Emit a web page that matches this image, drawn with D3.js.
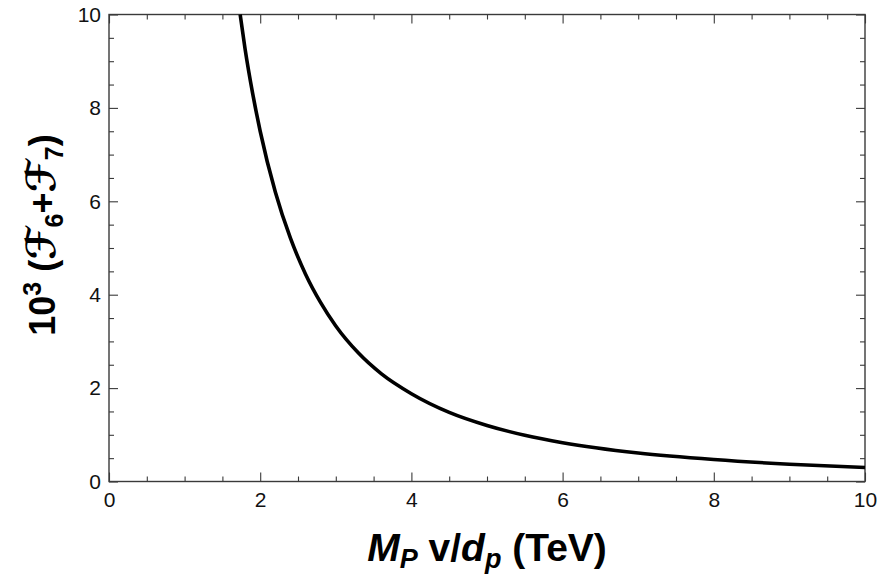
<!DOCTYPE html>
<html>
<head>
<meta charset="utf-8">
<script src="https://cdn.jsdelivr.net/npm/d3@7"></script>
<style>
  html, body { margin: 0; padding: 0; background: #fff; }
  svg { display: block; }
  text { font-family: "Liberation Sans", Arial, sans-serif; }
</style>
</head>
<body>
<svg id="chart" width="891" height="575"></svg>
<script>
// Curve samples: M_P v/d_p (TeV) vs 10^3 (F6+F7)
const massTeV = [1.735, 1.8, 1.9, 2.0, 2.2, 2.4, 2.6, 2.8, 3.0, 3.3, 3.6, 4.0, 4.5, 5.0, 5.5, 6.0, 7.0, 8.0, 9.0, 10.0];
const formFactor = [10.0, 9.26, 8.31, 7.5, 6.2, 5.21, 4.44, 3.83, 3.33, 2.75, 2.31, 1.88, 1.48, 1.2, 0.99, 0.83, 0.61, 0.47, 0.37, 0.30];

const xMajorTicks = [0, 2, 4, 6, 8, 10];
const yMajorTicks = [0, 2, 4, 6, 8, 10];
const xMinorTicks = [0.5, 1, 1.5, 2.5, 3, 3.5, 4.5, 5, 5.5, 6.5, 7, 7.5, 8.5, 9, 9.5];
const yMinorTicks = [0.5, 1, 1.5, 2.5, 3, 3.5, 4.5, 5, 5.5, 6.5, 7, 7.5, 8.5, 9, 9.5];

const svg = d3.select("#chart");
const plotL = 109, plotR = 865, plotT = 14.5, plotB = 481.5;

const x = d3.scaleLinear().domain([0, 10]).range([plotL, plotR]);
const y = d3.scaleLinear().domain([0, 10]).range([plotB, plotT]);

const tickColor = "#3a3a3a";
const major = 9, minor = 5;

function styleAxis(g) {
  g.select(".domain").remove();
  g.selectAll(".tick line").attr("stroke", tickColor).attr("stroke-width", 1.1);
  g.selectAll(".tick text").attr("fill", "#111").attr("font-size", 21)
    .attr("font-family", "Liberation Sans, Arial, sans-serif");
}

// bottom axis with labels
svg.append("g").attr("transform", `translate(0,${plotB})`)
  .call(d3.axisBottom(x).tickValues(xMajorTicks).tickSize(-major).tickPadding(11).tickFormat(d3.format("d")))
  .call(styleAxis);
svg.append("g").attr("transform", `translate(0,${plotB})`)
  .call(d3.axisBottom(x).tickValues(xMinorTicks).tickSize(-minor).tickFormat(""))
  .call(styleAxis);
// top axis
svg.append("g").attr("transform", `translate(0,${plotT})`)
  .call(d3.axisTop(x).tickValues(xMajorTicks).tickSize(-major).tickFormat(""))
  .call(styleAxis);
svg.append("g").attr("transform", `translate(0,${plotT})`)
  .call(d3.axisTop(x).tickValues(xMinorTicks).tickSize(-minor).tickFormat(""))
  .call(styleAxis);
// left axis with labels
svg.append("g").attr("transform", `translate(${plotL},0)`)
  .call(d3.axisLeft(y).tickValues(yMajorTicks).tickSize(-major).tickPadding(8).tickFormat(d3.format("d")))
  .call(styleAxis);
svg.append("g").attr("transform", `translate(${plotL},0)`)
  .call(d3.axisLeft(y).tickValues(yMinorTicks).tickSize(-minor).tickFormat(""))
  .call(styleAxis);
// right axis
svg.append("g").attr("transform", `translate(${plotR},0)`)
  .call(d3.axisRight(y).tickValues(yMajorTicks).tickSize(-major).tickFormat(""))
  .call(styleAxis);
svg.append("g").attr("transform", `translate(${plotR},0)`)
  .call(d3.axisRight(y).tickValues(yMinorTicks).tickSize(-minor).tickFormat(""))
  .call(styleAxis);

// frame
svg.append("rect")
  .attr("x", plotL).attr("y", plotT)
  .attr("width", plotR - plotL).attr("height", plotB - plotT)
  .attr("fill", "none").attr("stroke", tickColor).attr("stroke-width", 1.4);

// curve
const pts = massTeV.map((m, i) => [m, formFactor[i]]);
const line = d3.line().x(d => x(d[0])).y(d => y(d[1])).curve(d3.curveMonotoneX);
svg.append("path")
  .datum(pts)
  .attr("d", line)
  .attr("fill", "none")
  .attr("stroke", "#000")
  .attr("stroke-width", 3.6)
  .attr("stroke-linejoin", "round");

// x-axis title
const xt = svg.append("text")
  .attr("x", (plotL + plotR) / 2).attr("y", 561)
  .attr("text-anchor", "middle")
  .attr("font-size", 39).attr("font-weight", "bold").attr("fill", "#000");
xt.append("tspan").attr("font-style", "italic").text("M");
xt.append("tspan").attr("font-style", "italic").attr("font-size", 27).attr("dy", 7).text("P");
xt.append("tspan").attr("dy", -7).text(" v/");
xt.append("tspan").attr("font-style", "italic").text("d");
xt.append("tspan").attr("font-style", "italic").attr("font-size", 27).attr("dy", 7).text("p");
xt.append("tspan").attr("dy", -7).text(" (TeV)");

// y-axis title
const yt = svg.append("text")
  .attr("transform", "translate(55,235) rotate(-90)")
  .attr("text-anchor", "middle")
  .attr("font-size", 36).attr("font-weight", "bold").attr("fill", "#000");
yt.append("tspan").text("10");
yt.append("tspan").attr("font-size", 25).attr("dy", -14).text("3");
yt.append("tspan").attr("dy", 14).text(" (");
yt.append("tspan").attr("font-family", "DejaVu Sans, serif").attr("font-size", 40).text("\u2131");
yt.append("tspan").attr("font-size", 25).attr("dy", 8).text("6");
yt.append("tspan").attr("dy", -8).text("+");
yt.append("tspan").attr("font-family", "DejaVu Sans, serif").attr("font-size", 40).text("\u2131");
yt.append("tspan").attr("font-size", 25).attr("dy", 8).text("7");
yt.append("tspan").attr("dy", -8).text(")");
</script>
</body>
</html>
